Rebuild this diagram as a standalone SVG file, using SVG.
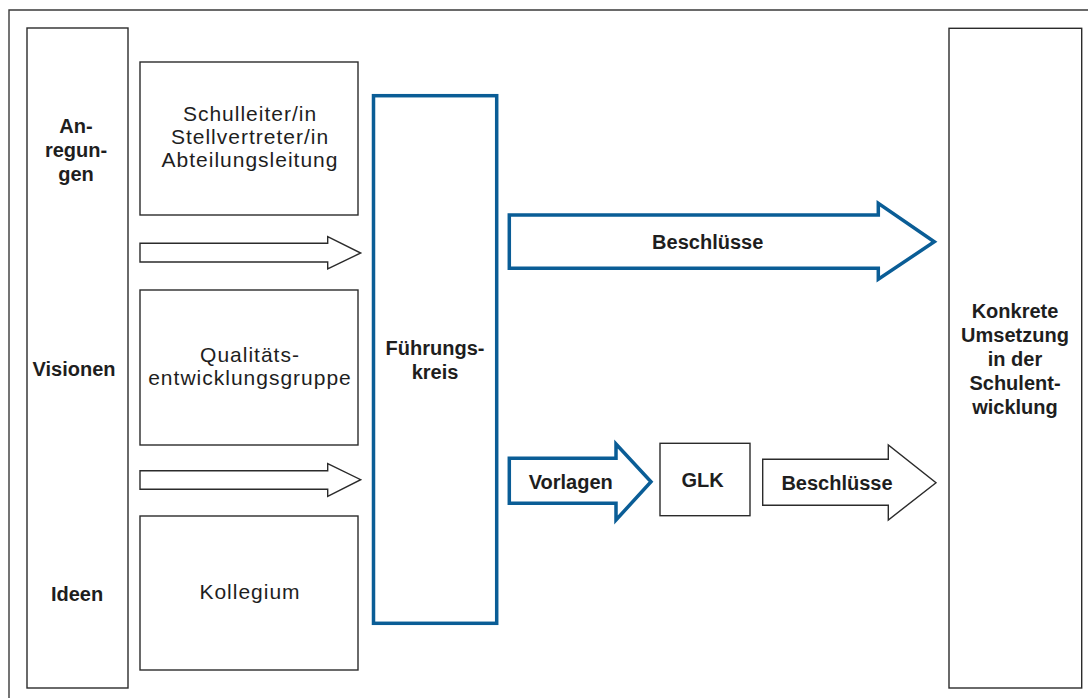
<svg xmlns="http://www.w3.org/2000/svg" width="1088" height="698" viewBox="0 0 1088 698">
<style>
.box{fill:#fff;stroke:#2b2b2b;stroke-width:1.4}
.blue{fill:#fff;stroke:#0a5d96;stroke-width:3.5;stroke-linejoin:miter}
.arr{fill:#fff;stroke:#2b2b2b;stroke-width:1.4;stroke-linejoin:miter}
.b{font-family:"Liberation Sans",Arial,sans-serif;font-weight:bold;font-size:20px;fill:#1e1e1e;text-anchor:middle}
.r{font-family:"Liberation Sans",Arial,sans-serif;font-size:21px;letter-spacing:1px;fill:#1e1e1e;text-anchor:middle}
</style>
<rect width="1088" height="698" fill="#fff"/>
<path d="M9,698 L9,10 L1088,10" fill="none" stroke="#3a3a3a" stroke-width="1.4"/>
<g id="anregungen">
<rect class="box" x="27" y="28" width="101" height="660"/>
<text class="b" x="76" y="133">An-</text>
<text class="b" x="76" y="157">regun-</text>
<text class="b" x="76" y="181">gen</text>
<text class="b" x="74" y="376">Visionen</text>
<text class="b" x="77" y="601">Ideen</text>
</g>
<g id="schulleitung">
<rect class="box" x="140" y="62" width="218" height="153"/>
<text class="r" x="250" y="121">Schulleiter/in</text>
<text class="r" x="250" y="144">Stellvertreter/in</text>
<text class="r" x="250" y="167">Abteilungsleitung</text>
</g>
<g id="qualitaet">
<rect class="box" x="140" y="290" width="218" height="155"/>
<text class="r" x="250" y="362">Qualitäts-</text>
<text class="r" x="250" y="385">entwicklungsgruppe</text>
</g>
<g id="kollegium">
<rect class="box" x="140" y="516" width="218" height="154"/>
<text class="r" x="250" y="599">Kollegium</text>
</g>
<g id="fuehrungskreis">
<rect class="blue" x="373.5" y="95.7" width="123.2" height="527.6"/>
<text class="b" x="435" y="355">Führungs-</text>
<text class="b" x="435" y="379">kreis</text>
</g>
<g id="glk">
<rect class="box" x="660" y="443.3" width="90" height="72.4"/>
<text class="b" x="702.5" y="487">GLK</text>
</g>
<g id="umsetzung">
<rect class="box" x="949" y="28.3" width="132.7" height="659.7"/>
<text class="b" x="1015" y="318">Konkrete</text>
<text class="b" x="1015" y="342">Umsetzung</text>
<text class="b" x="1015" y="366">in der</text>
<text class="b" x="1015" y="390">Schulent-</text>
<text class="b" x="1015" y="414">wicklung</text>
</g>
<g id="connectors">
<path class="arr" d="M140,243.3 L327.7,243.3 L327.7,236.7 L360.7,253 L327.7,269 L327.7,262 L140,262 Z"/>
<path class="arr" d="M140,470.7 L327.7,470.7 L327.7,463.7 L360.7,479.7 L327.7,496.3 L327.7,489.3 L140,489.3 Z"/>
<path class="blue" d="M509.3,215 L878.3,215 L878.3,203.3 L934.3,241.7 L878.3,279.3 L878.3,268.3 L509.3,268.3 Z"/>
<text class="b" x="707.7" y="249">Beschlüsse</text>
<path class="blue" d="M509.3,458.3 L616,458.3 L616,444 L651,481.7 L616,520 L616,503.3 L509.3,503.3 Z"/>
<text class="b" x="570.7" y="489">Vorlagen</text>
<path class="arr" d="M762.7,459.3 L888.3,459.3 L888.3,445 L936,482.7 L888.3,520 L888.3,505.3 L762.7,505.3 Z"/>
<text class="b" x="837" y="490">Beschlüsse</text>
</g>
</svg>
